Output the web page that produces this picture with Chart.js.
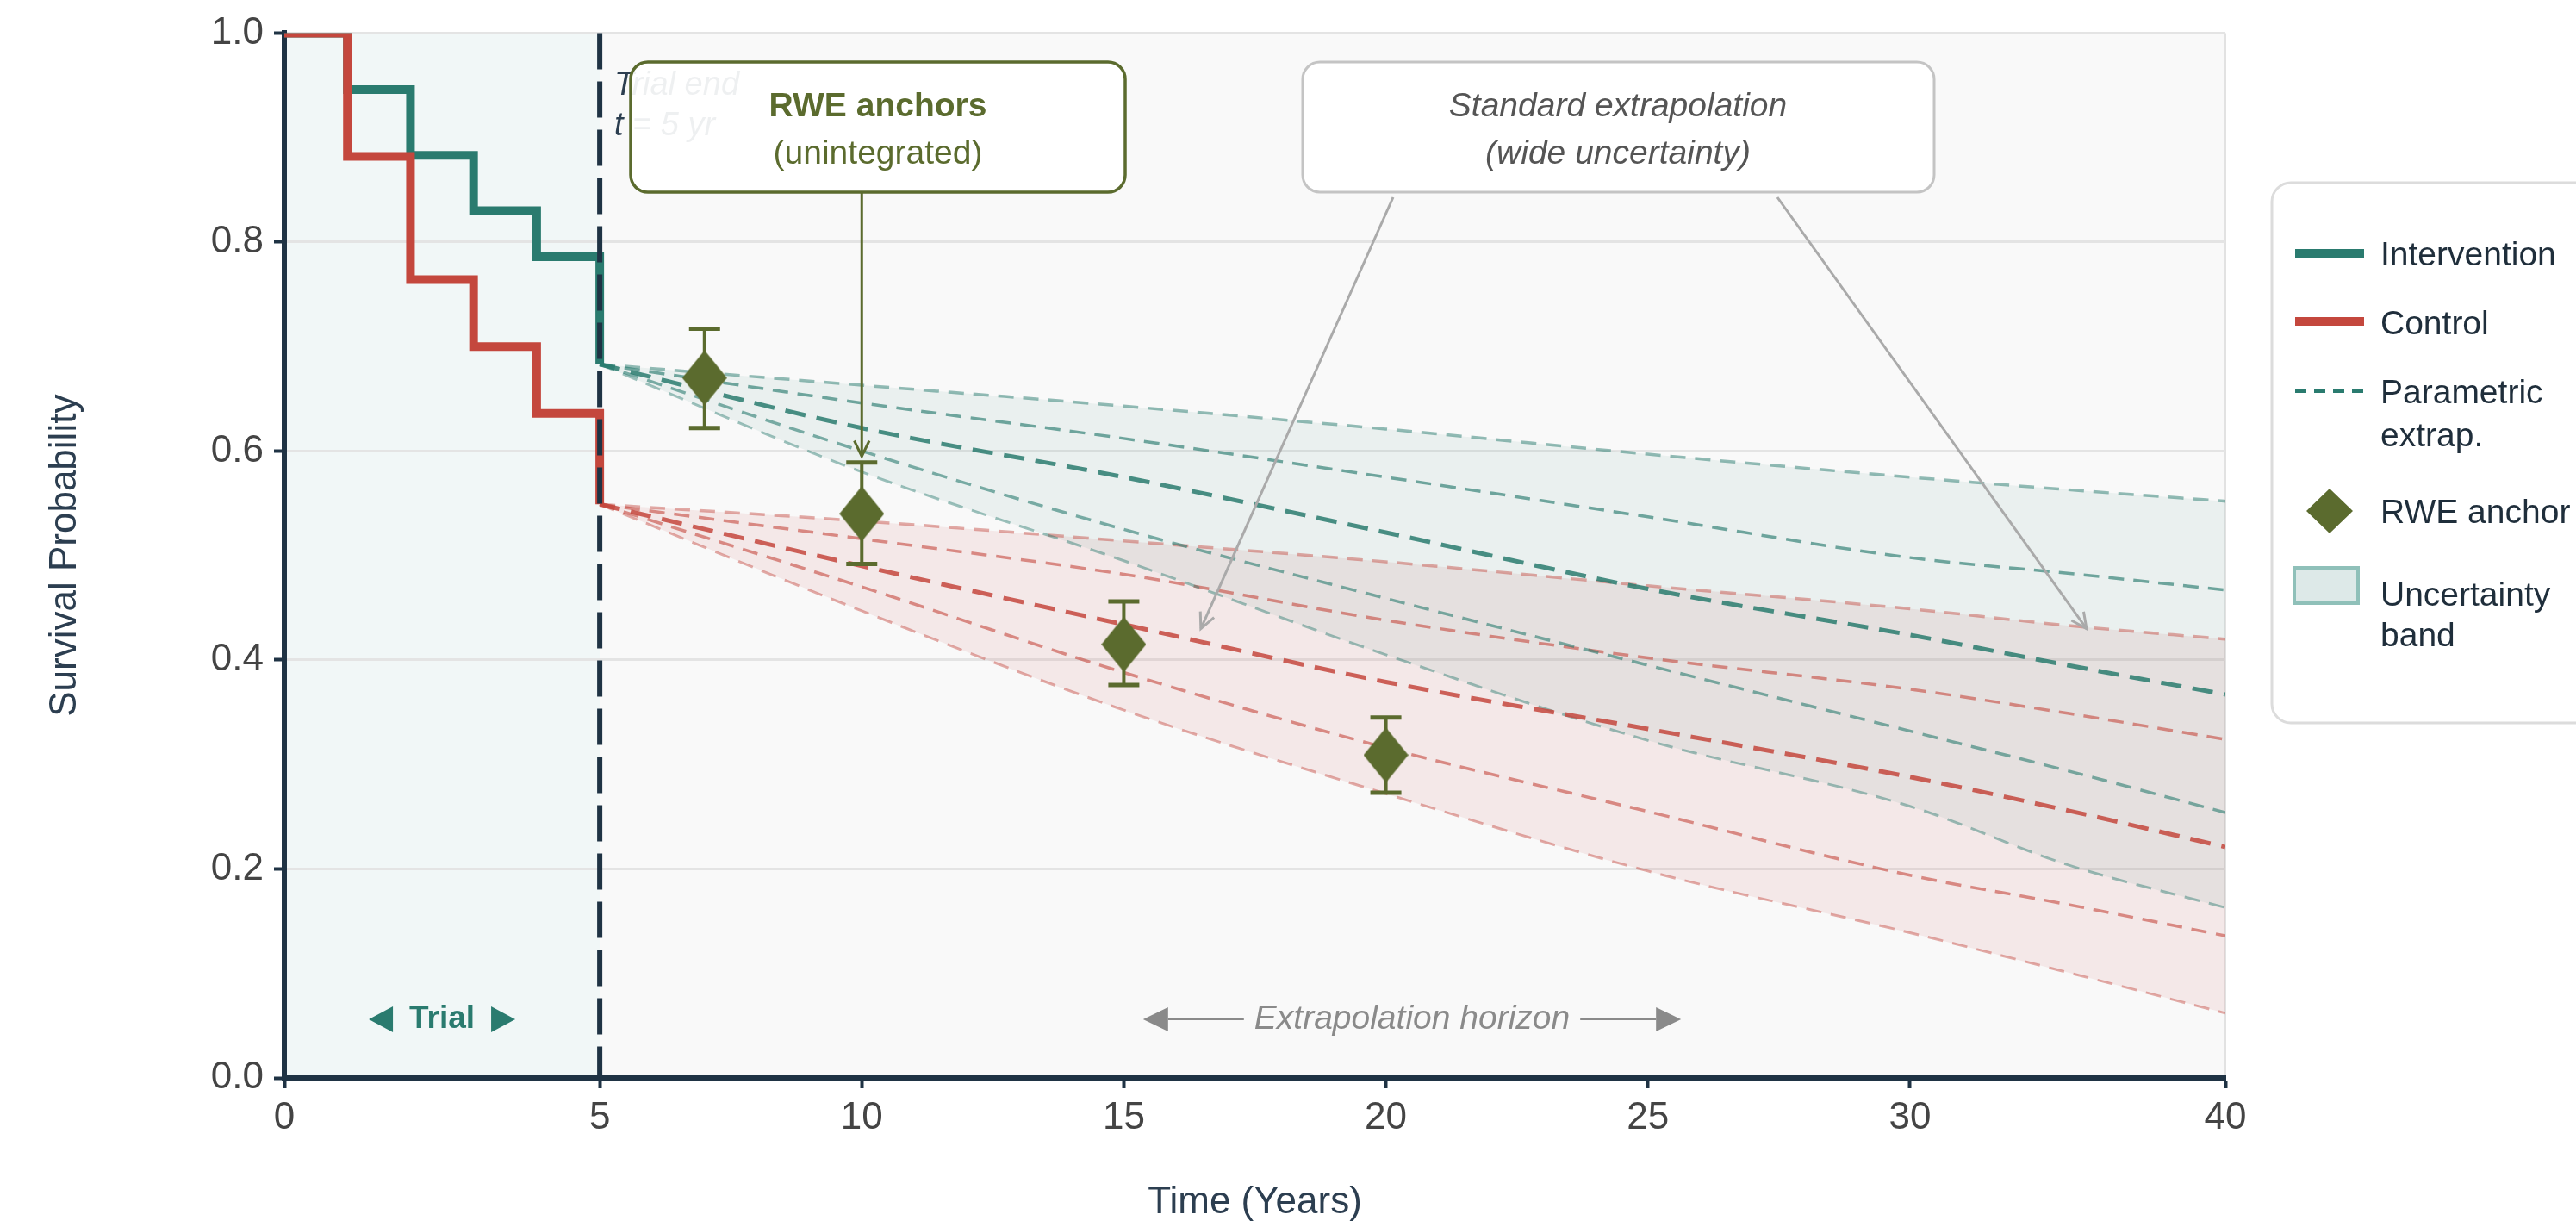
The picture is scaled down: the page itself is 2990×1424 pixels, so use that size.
<!DOCTYPE html>
<html>
<head>
<meta charset="utf-8">
<script src="https://cdn.jsdelivr.net/npm/chart.js@4.4.1/dist/chart.umd.min.js"></script>
<style>
  html, body { margin: 0; padding: 0; background: #fff; }
  #wrap { width: 2990px; height: 1424px; }
</style>
</head>
<body>
<div id="wrap"><canvas id="chart"></canvas></div>
<script>
// ---- data ----
const xTicks = [0, 5, 10, 15, 20, 25, 30, 40];
const yTicks = [0, 0.2, 0.4, 0.6, 0.8, 1.0];

const kmTimes = [0, 1, 2, 3, 4, 5];
const kmIntervention = [1.0, 0.946, 0.883, 0.830, 0.786, 0.683];
const kmControl = [1.0, 0.882, 0.764, 0.700, 0.636, 0.549];

const extrapTimes = [5, 10, 15, 20, 25, 30, 35, 40];
const intvUpper = [0.683, 0.663, 0.643, 0.621, 0.597, 0.575, 0.563, 0.552];
const intvHigh  = [0.683, 0.646, 0.612, 0.575, 0.537, 0.498, 0.483, 0.467];
const intvMid   = [0.683, 0.622, 0.575, 0.522, 0.468, 0.424, 0.395, 0.367];
const intvLow   = [0.683, 0.600, 0.525, 0.459, 0.395, 0.332, 0.294, 0.254];
const intvLower = [0.683, 0.580, 0.495, 0.405, 0.323, 0.260, 0.204, 0.163];

const ctrlUpper = [0.549, 0.533, 0.514, 0.494, 0.471, 0.449, 0.433, 0.420];
const ctrlHigh  = [0.549, 0.516, 0.482, 0.438, 0.402, 0.372, 0.349, 0.324];
const ctrlMid   = [0.549, 0.490, 0.434, 0.379, 0.334, 0.288, 0.256, 0.221];
const ctrlLow   = [0.549, 0.470, 0.388, 0.316, 0.255, 0.194, 0.166, 0.136];
const ctrlLower = [0.549, 0.447, 0.352, 0.272, 0.198, 0.139, 0.101, 0.062];

const anchorTimes = [7, 10, 15, 20];
const anchorValues = [0.670, 0.540, 0.415, 0.309];
const anchorLow = [0.622, 0.492, 0.376, 0.273];
const anchorHigh = [0.717, 0.589, 0.456, 0.345];

// ---- styles ----
const AXIS = '#1f3344';
const TEAL = '#2a7b6f';
const RED = '#c4473d';
const OLIVE = '#5b6b2e';
const FONT = '"Liberation Sans", Arial, Helvetica, sans-serif';

// time axis is stretched piecewise: trial period and the tail get more room
const xBreaks = [0, 5, 30, 40];
const xStops = [0, 0.1625, 0.8375, 1];

class PiecewiseScale extends Chart.LinearScale {
  static id = 'piecewise';
  static defaults = {};
  toDecimal(v) {
    for (let i = 1; i < xBreaks.length; i++) {
      if (v <= xBreaks[i] || i === xBreaks.length - 1) {
        const f = (v - xBreaks[i - 1]) / (xBreaks[i] - xBreaks[i - 1]);
        return xStops[i - 1] + f * (xStops[i] - xStops[i - 1]);
      }
    }
  }
  getPixelForValue(value) {
    if (value === null || isNaN(value)) return NaN;
    return this.getPixelForDecimal(this.toDecimal(value));
  }
  getValueForPixel(pixel) {
    const d = this.getDecimalForPixel(pixel);
    for (let i = 1; i < xStops.length; i++) {
      if (d <= xStops[i] || i === xStops.length - 1) {
        const f = (d - xStops[i - 1]) / (xStops[i] - xStops[i - 1]);
        return xBreaks[i - 1] + f * (xBreaks[i] - xBreaks[i - 1]);
      }
    }
  }
}
Chart.register(PiecewiseScale);

function rgba(hex, a) {
  const n = parseInt(hex.slice(1), 16);
  return `rgba(${n >> 16},${(n >> 8) & 255},${n & 255},${a})`;
}
function pts(xs, ys) {
  return xs.map((x, i) => ({ x, y: ys[i] }));
}
function diamondImage(w, h, color) {
  const c = document.createElement('canvas');
  c.width = w; c.height = h;
  const g = c.getContext('2d');
  g.fillStyle = color;
  g.beginPath();
  g.moveTo(w / 2, 0); g.lineTo(w, h / 2); g.lineTo(w / 2, h); g.lineTo(0, h / 2);
  g.closePath();
  g.fill();
  return c;
}
function extrapSet(label, ys, color, alpha, width, dash, order) {
  return {
    label, data: pts(extrapTimes, ys),
    borderColor: rgba(color, alpha), borderWidth: width, borderDash: dash,
    pointRadius: 0, cubicInterpolationMode: 'monotone', fill: false, order
  };
}

const thinDash = [18, 11];
const midDash = [24, 13];
const datasets = [
  extrapSet('intvUpper', intvUpper, TEAL, 0.5, 3.5, thinDash, 4),
  extrapSet('intvHigh', intvHigh, TEAL, 0.65, 3.5, thinDash, 4),
  extrapSet('intvMid', intvMid, TEAL, 0.85, 5, midDash, 3),
  extrapSet('intvLow', intvLow, TEAL, 0.6, 3.5, thinDash, 4),
  extrapSet('intvLower', intvLower, TEAL, 0.45, 3, thinDash, 4),
  extrapSet('ctrlUpper', ctrlUpper, RED, 0.45, 3.5, thinDash, 4),
  extrapSet('ctrlHigh', ctrlHigh, RED, 0.6, 3.5, thinDash, 4),
  extrapSet('ctrlMid', ctrlMid, RED, 0.85, 5, midDash, 3),
  extrapSet('ctrlLow', ctrlLow, RED, 0.6, 3.5, thinDash, 4),
  extrapSet('ctrlLower', ctrlLower, RED, 0.45, 3, thinDash, 4),
  {
    label: 'Intervention', data: pts(kmTimes, kmIntervention), stepped: true,
    borderColor: TEAL, borderWidth: 10, borderJoinStyle: 'miter', pointRadius: 0, order: 2
  },
  {
    label: 'Control', data: pts(kmTimes, kmControl), stepped: true,
    borderColor: RED, borderWidth: 10, borderJoinStyle: 'miter', pointRadius: 0, order: 1
  },
  {
    label: 'RWE anchor', data: pts(anchorTimes, anchorValues), showLine: false,
    pointStyle: diamondImage(52, 64, OLIVE), pointRadius: 26, order: 0
  }
];
// uncertainty bands: outer curves fill to each other
datasets[0].fill = { target: 4 };
datasets[0].backgroundColor = rgba(TEAL, 0.07);
datasets[5].fill = { target: 9 };
datasets[5].backgroundColor = rgba(RED, 0.09);

function roundRect(ctx, x, y, w, h, r) {
  ctx.beginPath();
  ctx.moveTo(x + r, y);
  ctx.arcTo(x + w, y, x + w, y + h, r);
  ctx.arcTo(x + w, y + h, x, y + h, r);
  ctx.arcTo(x, y + h, x, y, r);
  ctx.arcTo(x, y, x + w, y, r);
  ctx.closePath();
}
function arrow(ctx, x1, y1, x2, y2, color, width, head) {
  ctx.strokeStyle = color;
  ctx.lineWidth = width;
  ctx.beginPath(); ctx.moveTo(x1, y1); ctx.lineTo(x2, y2); ctx.stroke();
  const ang = Math.atan2(y2 - y1, x2 - x1);
  ctx.beginPath();
  ctx.moveTo(x2 - head * Math.cos(ang - 0.45), y2 - head * Math.sin(ang - 0.45));
  ctx.lineTo(x2, y2);
  ctx.lineTo(x2 - head * Math.cos(ang + 0.45), y2 - head * Math.sin(ang + 0.45));
  ctx.stroke();
}
function tri(ctx, tipX, baseX, cy, half) {
  ctx.beginPath();
  ctx.moveTo(tipX, cy); ctx.lineTo(baseX, cy - half); ctx.lineTo(baseX, cy + half);
  ctx.closePath(); ctx.fill();
}

const decor = {
  id: 'decor',
  beforeDraw(chart) {
    const { ctx, chartArea: a, scales: { x } } = chart;
    ctx.save();
    ctx.fillStyle = '#f9f9f9';
    ctx.fillRect(a.left, a.top, a.right - a.left, a.bottom - a.top);
    ctx.fillStyle = '#f1f7f7';
    ctx.fillRect(a.left, a.top, x.getPixelForValue(5) - a.left, a.bottom - a.top);
    ctx.strokeStyle = '#e2e2e2';
    ctx.lineWidth = 2;
    ctx.beginPath(); ctx.moveTo(a.right, a.top); ctx.lineTo(a.right, a.bottom); ctx.stroke();
    ctx.restore();
  },
  beforeDatasetDraw(chart, args) {
    if (args.meta.label !== 'RWE anchor') return;
    const { ctx, scales: { x, y } } = chart;
    ctx.save();
    ctx.strokeStyle = OLIVE;
    anchorTimes.forEach((t, i) => {
      const px = x.getPixelForValue(t);
      const lo = y.getPixelForValue(anchorLow[i]);
      const hi = y.getPixelForValue(anchorHigh[i]);
      ctx.lineWidth = 4;
      ctx.beginPath(); ctx.moveTo(px, lo); ctx.lineTo(px, hi); ctx.stroke();
      ctx.lineWidth = 5;
      ctx.beginPath();
      ctx.moveTo(px - 18, lo); ctx.lineTo(px + 18, lo);
      ctx.moveTo(px - 18, hi); ctx.lineTo(px + 18, hi);
      ctx.stroke();
    });
    ctx.restore();
  },
  afterDatasetsDraw(chart) {
    const { ctx, chartArea: a, scales: { x, y } } = chart;
    ctx.save();

    // trial end line
    const x5 = x.getPixelForValue(5);
    ctx.strokeStyle = AXIS;
    ctx.lineWidth = 6;
    ctx.setLineDash([42, 14]);
    ctx.beginPath(); ctx.moveTo(x5, a.top); ctx.lineTo(x5, a.bottom); ctx.stroke();
    ctx.setLineDash([]);

    // trial label
    const tx = x.getPixelForValue(2.5), ty = 1183;
    ctx.fillStyle = TEAL;
    ctx.font = 'bold 37px ' + FONT;
    ctx.textAlign = 'center';
    ctx.textBaseline = 'middle';
    ctx.fillText('Trial', tx, ty);
    tri(ctx, tx - 85, tx - 57, ty, 15);
    tri(ctx, tx + 85, tx + 57, ty, 15);

    // extrapolation horizon
    const hx = x.getPixelForValue(20.5);
    ctx.fillStyle = '#8a8a8a';
    ctx.strokeStyle = '#8a8a8a';
    ctx.font = 'italic 39px ' + FONT;
    ctx.fillText('Extrapolation horizon', hx, ty);
    const hw = ctx.measureText('Extrapolation horizon').width / 2;
    ctx.lineWidth = 2;
    ctx.beginPath();
    ctx.moveTo(hx - hw - 12, ty); ctx.lineTo(hx - hw - 100, ty);
    ctx.moveTo(hx + hw + 12, ty); ctx.lineTo(hx + hw + 100, ty);
    ctx.stroke();
    tri(ctx, hx - hw - 129, hx - hw - 100, ty, 14);
    tri(ctx, hx + hw + 129, hx + hw + 100, ty, 14);

    // trial end note (partly hidden behind the box)
    ctx.fillStyle = '#2c3e50';
    ctx.font = 'italic 38px ' + FONT;
    ctx.textAlign = 'left';
    ctx.textBaseline = 'alphabetic';
    ctx.fillText('Trial end', 713, 110);
    ctx.fillText('t = 5 yr', 713, 157);

    // RWE anchors callout
    roundRect(ctx, 732, 72, 574, 151, 20);
    ctx.fillStyle = 'rgba(255,255,255,0.92)';
    ctx.fill();
    ctx.strokeStyle = OLIVE;
    ctx.lineWidth = 3.5;
    ctx.stroke();
    ctx.fillStyle = OLIVE;
    ctx.textAlign = 'center';
    ctx.font = 'bold 39px ' + FONT;
    ctx.fillText('RWE anchors', 1019, 135);
    ctx.font = '39px ' + FONT;
    ctx.fillText('(unintegrated)', 1019, 190);
    const ax = x.getPixelForValue(10);
    arrow(ctx, ax, 223, ax, y.getPixelForValue(0.595), OLIVE, 3, 20);

    // standard extrapolation callout
    roundRect(ctx, 1512, 72, 733, 151, 20);
    ctx.fillStyle = 'rgba(255,255,255,0.92)';
    ctx.fill();
    ctx.strokeStyle = '#c4c4c4';
    ctx.lineWidth = 3;
    ctx.stroke();
    ctx.fillStyle = '#555555';
    ctx.font = 'italic 39px ' + FONT;
    ctx.fillText('Standard extrapolation', 1878, 135);
    ctx.fillText('(wide uncertainty)', 1878, 190);
    arrow(ctx, 1617, 229, x.getPixelForValue(16.47), y.getPixelForValue(0.43), '#aaaaaa', 3, 20);
    arrow(ctx, 2063, 229, x.getPixelForValue(35.6), y.getPixelForValue(0.43), '#aaaaaa', 3, 20);

    ctx.restore();
  },
  afterDraw(chart) {
    const { ctx } = chart;
    ctx.save();
    roundRect(ctx, 2637, 212, 420, 627, 22);
    ctx.fillStyle = '#ffffff';
    ctx.fill();
    ctx.strokeStyle = '#dcdcdc';
    ctx.lineWidth = 3;
    ctx.stroke();

    const lx1 = 2664, lx2 = 2744, textX = 2763;
    ctx.lineWidth = 10;
    ctx.strokeStyle = TEAL;
    ctx.beginPath(); ctx.moveTo(lx1, 294); ctx.lineTo(lx2, 294); ctx.stroke();
    ctx.strokeStyle = RED;
    ctx.beginPath(); ctx.moveTo(lx1, 373); ctx.lineTo(lx2, 373); ctx.stroke();
    ctx.lineWidth = 4;
    ctx.strokeStyle = TEAL;
    ctx.setLineDash([13, 9]);
    ctx.beginPath(); ctx.moveTo(lx1, 454); ctx.lineTo(lx2 + 2, 454); ctx.stroke();
    ctx.setLineDash([]);
    ctx.fillStyle = OLIVE;
    ctx.beginPath();
    ctx.moveTo(2704, 567); ctx.lineTo(2731, 593); ctx.lineTo(2704, 619); ctx.lineTo(2677, 593);
    ctx.closePath(); ctx.fill();
    ctx.fillStyle = '#dde9e8';
    ctx.fillRect(2663, 659, 74, 41);
    ctx.strokeStyle = '#8fc0b9';
    ctx.lineWidth = 4;
    ctx.strokeRect(2663, 659, 74, 41);

    ctx.fillStyle = '#1f2e3b';
    ctx.font = '39px ' + FONT;
    ctx.textAlign = 'left';
    ctx.textBaseline = 'middle';
    ctx.fillText('Intervention', textX, 297);
    ctx.fillText('Control', textX, 377);
    ctx.fillText('Parametric', textX, 457);
    ctx.fillText('extrap.', textX, 507);
    ctx.fillText('RWE anchor', textX, 596);
    ctx.fillText('Uncertainty', textX, 692);
    ctx.fillText('band', textX, 739);
    ctx.restore();
  }
};

Chart.defaults.font.family = FONT;

new Chart(document.getElementById('chart'), {
  type: 'line',
  data: { datasets },
  plugins: [decor],
  options: {
    responsive: true,
    maintainAspectRatio: false,
    devicePixelRatio: 1,
    animation: false,
    layout: { padding: { top: 33, right: 407, left: 0, bottom: 0 } },
    plugins: {
      legend: { display: false },
      tooltip: { enabled: false },
      filler: { drawTime: 'beforeDatasetsDraw' }
    },
    scales: {
      x: {
        type: 'piecewise',
        min: 0, max: 40,
        afterBuildTicks: s => { s.ticks = xTicks.map(v => ({ value: v })); },
        afterFit: s => { s.height = 173; },
        ticks: { color: '#444444', font: { size: 44 }, padding: 8, maxRotation: 0, autoSkip: false, callback: v => String(v) },
        grid: { drawOnChartArea: false, tickColor: AXIS, tickLength: 12, tickWidth: 4 },
        border: { color: AXIS, width: 7 },
        title: { display: true, text: 'Time (Years)', color: '#2c3e50', font: { size: 44 }, padding: { top: 0, bottom: 2 } }
      },
      y: {
        min: 0, max: 1,
        afterBuildTicks: s => { s.ticks = yTicks.map(v => ({ value: v })); },
        afterFit: s => { s.width = 330; },
        ticks: { color: '#444444', font: { size: 44 }, padding: 12, callback: v => v.toFixed(1) },
        grid: { color: '#e4e4e4', lineWidth: 3, tickColor: AXIS, tickLength: 12, tickWidth: 4 },
        border: { color: AXIS, width: 6 },
        title: { display: true, text: 'Survival Probability', color: '#2c3e50', font: { size: 44 }, padding: { top: 49, bottom: 0 } }
      }
    }
  }
});
</script>
</body>
</html>
